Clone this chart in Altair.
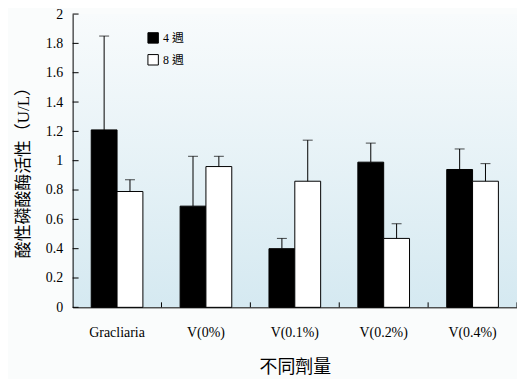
import altair as alt
import pandas as pd

categories = ["Gracliaria", "V(0%)", "V(0.1%)", "V(0.2%)", "V(0.4%)"]
series = ["4 週", "8 週"]
mean_4w = [1.21, 0.69, 0.40, 0.99, 0.94]
sd_4w = [0.64, 0.34, 0.07, 0.13, 0.14]
mean_8w = [0.79, 0.96, 0.86, 0.47, 0.86]
sd_8w = [0.08, 0.07, 0.28, 0.10, 0.12]
y_ticks = [0, 0.2, 0.4, 0.6, 0.8, 1.0, 1.2, 1.4, 1.6, 1.8, 2.0]

rows = []
for i, c in enumerate(categories):
    rows.append({"cat": c, "s": series[0], "v": mean_4w[i], "up": mean_4w[i] + sd_4w[i]})
    rows.append({"cat": c, "s": series[1], "v": mean_8w[i], "up": mean_8w[i] + sd_8w[i]})
df = pd.DataFrame(rows)
ticks_df = pd.DataFrame({"t": y_ticks})
cat_df = pd.DataFrame({"cat": categories})
one = pd.DataFrame({"a": [0]})

W, H = 447, 295
FONT = "Liberation Serif, Noto Sans CJK TC"

xscale = alt.Scale(domain=categories, paddingInner=0, paddingOuter=0)
xaxis = alt.Axis(title="不同劑量", ticks=False, labelAngle=0, labelPadding=18,
                 titlePadding=20, labelFontSize=14, titleFontSize=18, zindex=1,
                 labelOverlap=False)
yscale = alt.Scale(domain=[0, 2], nice=False)
yaxis = alt.Axis(title="酸性磷酸酶活性（U/L）", values=y_ticks, ticks=False, format="~g",
                 grid=False, labelPadding=10, titlePadding=13, labelFontSize=14,
                 titleFontSize=17, labelOverlap=False, zindex=1, titleY=155)

def X(**kw):
    return alt.X("cat:N", sort=categories, scale=xscale, axis=xaxis, **kw)

def Y(field):
    return alt.Y(field, scale=yscale, axis=yaxis)

xo = alt.XOffset("s:N", sort=series, scale=alt.Scale(domain=series, paddingOuter=0.72, paddingInner=0))

bg = alt.Chart(one).mark_rect(
    fill=alt.LinearGradient(gradient="linear",
                            stops=[alt.GradientStop(color="#f8fbfc", offset=0),
                                   alt.GradientStop(color="#d5e9f1", offset=1)],
                            x1=0, x2=0, y1=0, y2=1)
).encode(x=alt.value(0), x2=alt.value(W), y=alt.value(0), y2=alt.value(H))

bars = alt.Chart(df).mark_bar(stroke="black", strokeWidth=1).encode(
    x=X(), xOffset=xo, y=Y("v:Q"),
    fill=alt.Fill("s:N", sort=series,
                  scale=alt.Scale(domain=series, range=["black", "white"]),
                  legend=alt.Legend(title=None, orient="none", legendX=75, legendY=18,
                                    symbolType="square", symbolSize=110,
                                    symbolStrokeColor="black", symbolStrokeWidth=1,
                                    labelFont=FONT, labelFontSize=12, rowPadding=6,
                                    labelColor="black"))
)

err = alt.Chart(df).mark_rule(color="black", strokeWidth=1).encode(
    x=X(), xOffset=xo, y=Y("v:Q"), y2="up:Q"
)
caps = alt.Chart(df).mark_tick(color="black", thickness=1, size=10).encode(
    x=X(), xOffset=xo, y=Y("up:Q")
)

yt = alt.Chart(ticks_df).mark_rule(color="black").encode(
    y=Y("t:Q"), x=alt.value(0), x2=alt.value(6)
)
xt = alt.Chart(cat_df).mark_rule(color="black").encode(
    x=X(bandPosition=1), y=alt.value(H), y2=alt.value(H - 5)
)

chart = alt.layer(bg, bars, err, caps, yt, xt).properties(
    width=W, height=H,
    autosize=alt.AutoSizeParams(type="none"),
    padding={"left": 65, "top": 5, "right": 0, "bottom": 71},
    background="#fafcfc",
).configure_view(stroke=None).configure_axis(
    domainColor="black", domainWidth=1, labelColor="black", titleColor="black",
    labelFont=FONT, titleFont=FONT, titleFontWeight="normal", labelOverlap=False
)

chart.save("out.html", embed_options={"renderer": "svg", "actions": False})
